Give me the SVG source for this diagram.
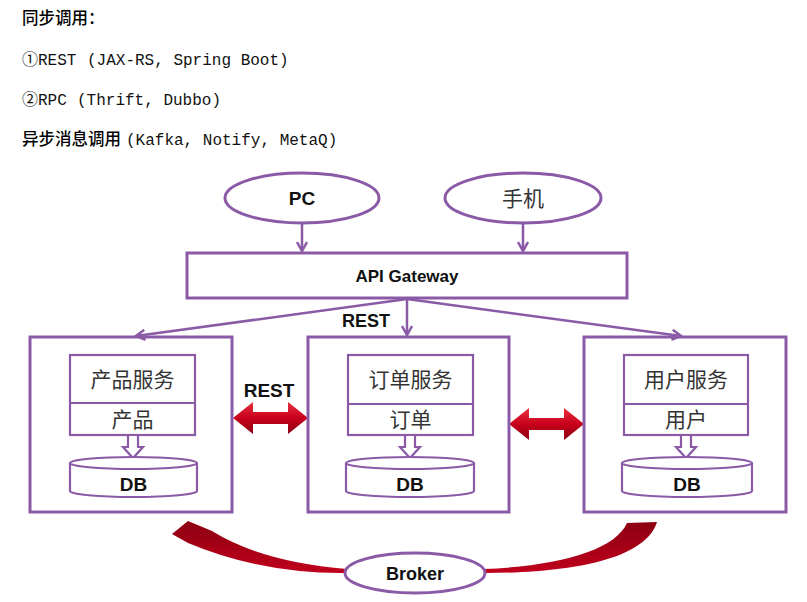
<svg xmlns="http://www.w3.org/2000/svg" width="807" height="602" viewBox="0 0 807 602">
<defs>
<style>
.p{fill:none;stroke:#8a5aa6;stroke-width:3}
.pw{fill:#fff;stroke:#8a5aa6;stroke-width:3}
.thin{fill:#fff;stroke:#8a5aa6;stroke-width:2.2}
.ln{fill:none;stroke:#8a5aa6;stroke-width:2.5}
.h{font-family:"Noto Sans CJK SC","Liberation Sans",sans-serif;font-size:16.5px;font-weight:500;fill:#000}
.m{font-family:"Liberation Mono","Noto Sans CJK SC",monospace;font-size:16px;fill:#111}
.b{font-family:"Liberation Sans",Arial,sans-serif;font-weight:bold;fill:#111;text-anchor:middle}
.c{font-family:"Noto Sans CJK SC",sans-serif;font-size:21px;fill:#333;text-anchor:middle}
</style>
<marker id="ah" viewBox="0 0 12 12" refX="10" refY="6" markerWidth="12" markerHeight="12" markerUnits="userSpaceOnUse" orient="auto">
<polyline points="1,1 10,6 1,11" fill="none" stroke="#8a5aa6" stroke-width="2.5"/>
</marker>
<linearGradient id="rg" x1="0" y1="0" x2="0" y2="1">
<stop offset="0" stop-color="#e8313f"/>
<stop offset="0.5" stop-color="#c8001c"/>
<stop offset="1" stop-color="#8c0012"/>
</linearGradient>
<linearGradient id="cg" x1="0" y1="0" x2="0" y2="1">
<stop offset="0" stop-color="#8c0012"/>
<stop offset="1" stop-color="#c0001c"/>
</linearGradient>
</defs>

<g id="notes">
<text class="h" x="22" y="24">同步调用：</text>
<text class="m" y="65"><tspan x="22">①REST</tspan><tspan x="87">(JAX-RS, Spring Boot)</tspan></text>
<text class="m" y="105"><tspan x="22">②RPC</tspan><tspan x="77">(Thrift, Dubbo)</tspan></text>
<text y="145"><tspan class="h" x="22">异步消息调用</tspan><tspan class="m" x="126">(Kafka, Notify, MetaQ)</tspan></text>
</g>

<g id="pc"><ellipse class="pw" cx="302" cy="198" rx="77" ry="25"/><text class="b" x="302" y="205" font-size="19">PC</text></g>
<g id="phone"><ellipse class="pw" cx="523" cy="198" rx="78" ry="25"/><text class="c" x="523" y="206" font-size="21" fill="#222">手机</text></g>
<g id="gateway"><rect class="pw" x="187" y="253" width="440" height="45"/><text class="b" x="407" y="282" font-size="17">API Gateway</text></g>

<g id="connectors">
<line class="ln" x1="302" y1="223" x2="302" y2="251" marker-end="url(#ah)"/>
<line class="ln" x1="523" y1="223" x2="523" y2="251" marker-end="url(#ah)"/>
<line class="ln" x1="407" y1="299" x2="136" y2="336" marker-end="url(#ah)"/>
<line class="ln" x1="407" y1="299" x2="407" y2="335" marker-end="url(#ah)"/>
<line class="ln" x1="407" y1="299" x2="681" y2="336" marker-end="url(#ah)"/>
<text class="b" x="366" y="327" font-size="18">REST</text>
<polygon fill="url(#rg)" points="233,418 253,402 253,412 288,412 288,402 308,418 288,434 288,424 253,424 253,434"/>
<text class="b" x="269" y="397" font-size="19">REST</text>
<polygon fill="url(#rg)" points="509,424 529,408 529,418 564,418 564,408 584,424 564,440 564,430 529,430 529,440"/>
<path fill="url(#cg)" d="M347,569 Q262,562 212,531 L188,521 L172,534 L188,543 Q262,574 347,573 Z"/>
<path fill="url(#cg)" d="M484,569 C560,566 615,550 627,523 L657,522 C645,560 570,573 484,573 Z"/>
</g>

<g id="svc-product">
<rect class="p" x="30" y="337" width="202" height="175"/>
<rect class="thin" x="70" y="355" width="125" height="80"/>
<line class="thin" x1="70" y1="403" x2="195" y2="403"/>
<text class="c" x="132.5" y="387">产品服务</text>
<text class="c" x="132.5" y="427">产品</text>
<path class="thin" d="M128,436 L128,447 L123,447 L133,458 L143,447 L138,447 L138,436"/>
<path class="thin" d="M70,463 L70,491 A63.5,6 0 0 0 197,491 L197,463 A63.5,6 0 0 0 70,463 A63.5,6 0 0 0 197,463"/>
<text class="b" x="133.5" y="491" font-size="19">DB</text>
</g>

<g id="svc-order">
<rect class="p" x="308" y="337" width="201" height="175"/>
<rect class="thin" x="348" y="355" width="125" height="80"/>
<line class="thin" x1="348" y1="404" x2="473" y2="404"/>
<text class="c" x="410.5" y="387">订单服务</text>
<text class="c" x="410.5" y="427">订单</text>
<path class="thin" d="M405,436 L405,447 L400,447 L410,458 L420,447 L415,447 L415,436"/>
<path class="thin" d="M346,463 L346,491 A64,6 0 0 0 474,491 L474,463 A64,6 0 0 0 346,463 A64,6 0 0 0 474,463"/>
<text class="b" x="410" y="491" font-size="19">DB</text>
</g>

<g id="svc-user">
<rect class="p" x="584" y="337" width="202" height="175"/>
<rect class="thin" x="624" y="355" width="124" height="80"/>
<line class="thin" x1="624" y1="404" x2="748" y2="404"/>
<text class="c" x="686" y="387">用户服务</text>
<text class="c" x="686" y="427">用户</text>
<path class="thin" d="M681,436 L681,447 L676,447 L686,458 L696,447 L691,447 L691,436"/>
<path class="thin" d="M622,463 L622,491 A65,6 0 0 0 752,491 L752,463 A65,6 0 0 0 622,463 A65,6 0 0 0 752,463"/>
<text class="b" x="687" y="491" font-size="19">DB</text>
</g>

<g id="broker"><ellipse class="pw" cx="415" cy="573" rx="70" ry="20"/><text class="b" x="415" y="580" font-size="18">Broker</text></g>
</svg>
